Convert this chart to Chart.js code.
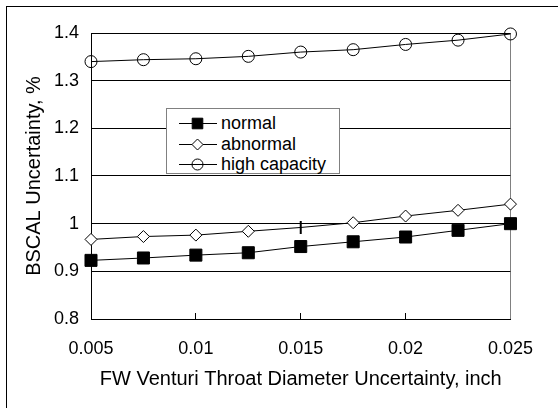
<!DOCTYPE html>
<html>
<head>
<meta charset="utf-8">
<script src="https://cdn.jsdelivr.net/npm/chart.js@4/dist/chart.umd.min.js"></script>
<style>
  html, body { margin: 0; padding: 0; background: #fff; }
  #wrap { position: relative; width: 558px; height: 408px; overflow: hidden; }
  #frame {
    position: absolute; left: 6px; top: 6px; width: 700px; height: 500px;
    border-left: 1px solid #000; border-top: 1px solid #000;
  }
  #chart { position: absolute; left: 0; top: 0; }
  #legend {
    position: absolute; left: 166px; top: 108px; width: 172px; height: 64px;
    border: 1px solid #808080; background: #fff;
    font-family: Arial, "Liberation Sans", sans-serif; font-size: 18px; color: #000;
  }
  .item { position: absolute; left: 12px; height: 20px; line-height: 20px; white-space: nowrap; }
  .item canvas { position: absolute; left: 0; top: 2px; }
  .item span { position: absolute; left: 42px; top: 0; }
</style>
</head>
<body>
<div id="wrap">
  <div id="frame"></div>
  <canvas id="chart" width="558" height="408"></canvas>
  <div id="legend"></div>
</div>
<script>
// data
const xValues = [0.005, 0.0075, 0.01, 0.0125, 0.015, 0.0175, 0.02, 0.0225, 0.025];
const normal = [0.923, 0.928, 0.934, 0.939, 0.952, 0.962, 0.972, 0.986, 1.000];
const abnormal = [0.967, 0.973, 0.976, 0.984, 0.992, 1.002, 1.016, 1.028, 1.041];
const highCapacity = [1.340, 1.344, 1.346, 1.351, 1.360, 1.365, 1.376, 1.385, 1.398];
const seriesNames = ['normal', 'abnormal', 'high capacity'];
const xTickLabels = ['0.005', '0.01', '0.015', '0.02', '0.025'];
const yTickLabels = ['0.8', '0.9', '1', '1.1', '1.2', '1.3', '1.4'];

const FONT = 'Arial, "Liberation Sans", sans-serif';
Chart.defaults.font.family = FONT;
Chart.defaults.color = '#000';

function toPoints(values) {
  return values.map((y, i) => ({ x: xValues[i], y: y }));
}

// the abnormal marker at 0.015 shows as a short vertical bar in the reference
const abnormalStyles = abnormal.map((v, i) => i === 4 ? 'line' : 'rectRot');

const datasets = [
  {
    label: seriesNames[0],
    data: toPoints(normal),
    borderColor: '#000',
    borderWidth: 1,
    clip: false,
    pointStyle: 'rect',
    pointRadius: 8.5,
    pointBackgroundColor: '#000',
    pointBorderColor: '#000',
    pointBorderWidth: 1
  },
  {
    label: seriesNames[1],
    data: toPoints(abnormal),
    borderColor: '#000',
    borderWidth: 1,
    clip: false,
    pointStyle: abnormalStyles,
    pointRotation: abnormal.map((v, i) => i === 4 ? 90 : 0),
    pointRadius: abnormal.map((v, i) => i === 4 ? 6.5 : 6),
    pointBackgroundColor: '#fff',
    pointBorderColor: '#000',
    pointBorderWidth: abnormal.map((v, i) => i === 4 ? 2 : 1)
  },
  {
    label: seriesNames[2],
    data: toPoints(highCapacity),
    borderColor: '#000',
    borderWidth: 1,
    clip: false,
    pointStyle: 'circle',
    pointRadius: 6,
    pointBackgroundColor: 'rgba(0,0,0,0)',
    pointBorderColor: '#000',
    pointBorderWidth: 1
  }
];

const chart = new Chart(document.getElementById('chart').getContext('2d'), {
  type: 'line',
  data: { datasets: datasets },
  options: {
    responsive: false,
    animation: false,
    devicePixelRatio: 1,
    layout: { padding: { left: 0, right: 35, top: 33, bottom: 0 } },
    plugins: {
      legend: { display: false },
      tooltip: { enabled: false }
    },
    elements: { line: { tension: 0 } },
    scales: {
      x: {
        type: 'linear',
        min: 0.005,
        max: 0.025,
        afterFit: function(scale) { scale.height = 89; },
        ticks: {
          stepSize: 0.005,
          autoSkip: false,
          maxRotation: 0,
          padding: 25,
          font: { size: 18 },
          callback: function(value, index) { return xTickLabels[index]; }
        },
        grid: {
          drawTicks: true,
          tickLength: -6,
          color: ctx => ctx.index === xTickLabels.length - 1 ? '#808080' : 'rgba(0,0,0,0)',
          tickColor: ctx => ctx.index === xTickLabels.length - 1 ? '#808080' : '#000',
          lineWidth: 1
        },
        border: { color: '#000', width: 1 },
        title: {
          display: true,
          text: 'FW Venturi Throat Diameter Uncertainty, inch',
          font: { size: 20 },
          padding: { top: 0, bottom: 17 }
        }
      },
      y: {
        min: 0.8,
        max: 1.4,
        afterFit: function(scale) { scale.width = 91; },
        ticks: {
          stepSize: 0.1,
          padding: 12,
          font: { size: 18 },
          callback: function(value, index) { return yTickLabels[index]; }
        },
        grid: {
          drawTicks: false,
          color: '#000',
          lineWidth: 1
        },
        border: { color: '#000', width: 1 },
        title: {
          display: true,
          text: 'BSCAL Uncertainty, %',
          font: { size: 20 },
          padding: { top: 22, bottom: 0 }
        }
      }
    }
  }
});

// HTML legend built from the chart datasets
function buildLegend(chart) {
  const box = document.getElementById('legend');
  const rowTops = [4, 25, 45];
  chart.data.datasets.forEach((ds, i) => {
    const item = document.createElement('div');
    item.className = 'item';
    item.style.top = rowTops[i] + 'px';
    const icon = document.createElement('canvas');
    icon.width = 38;
    icon.height = 16;
    const c = icon.getContext('2d');
    c.strokeStyle = '#000';
    c.lineWidth = 1;
    c.beginPath();
    c.moveTo(0, 8.5);
    c.lineTo(38, 8.5);
    c.stroke();
    const style = Array.isArray(ds.pointStyle) ? ds.pointStyle[0] : ds.pointStyle;
    const radius = style === 'rect' ? 7.5 : 5.5;
    c.fillStyle = ds.pointBackgroundColor;
    c.strokeStyle = ds.pointBorderColor;
    Chart.helpers.drawPoint(c, { pointStyle: style, radius: radius, rotation: 0, borderWidth: 1 }, 18.5, 8.5);
    item.appendChild(icon);
    const label = document.createElement('span');
    label.textContent = ds.label;
    item.appendChild(label);
    box.appendChild(item);
  });
}
buildLegend(chart);
</script>
</body>
</html>
